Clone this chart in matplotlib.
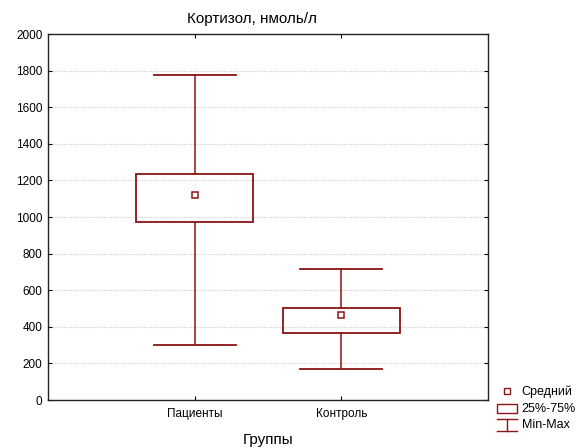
import matplotlib
matplotlib.use("Agg")
import matplotlib.pyplot as plt
from matplotlib.lines import Line2D
from matplotlib.patches import Rectangle
from matplotlib.legend_handler import HandlerBase

plt.rcParams['font.family'] = ['Liberation Sans', 'DejaVu Sans']

categories = ["Пациенты", "Контроль"]
means = [1120, 464]
q1 = [973, 368]
q3 = [1235, 504]
mins = [300, 168]
maxs = [1778, 714]
yticks = [0, 200, 400, 600, 800, 1000, 1200, 1400, 1600, 1800, 2000]

color = '#8b1414'

fig = plt.figure(figsize=(5.83, 4.48), dpi=100)
ax = fig.add_axes([48/583, 1-400/448, 440/583, 366/448])

pos = [1, 2]
bw = 0.8
cw = 0.56
for i, p in enumerate(pos):
    ax.add_patch(Rectangle((p - bw/2, q1[i]), bw, q3[i]-q1[i], fill=False,
                           edgecolor=color, lw=1.3, zorder=3))
    ax.plot([p, p], [q3[i], maxs[i]], color=color, lw=1.1, zorder=3)
    ax.plot([p, p], [mins[i], q1[i]], color=color, lw=1.1, zorder=3)
    ax.plot([p - cw/2, p + cw/2], [maxs[i], maxs[i]], color=color, lw=1.3, zorder=3)
    ax.plot([p - cw/2, p + cw/2], [mins[i], mins[i]], color=color, lw=1.3, zorder=3)
ax.plot(pos, means, linestyle='none', marker='s', markersize=5,
        markerfacecolor='white', markeredgecolor=color, markeredgewidth=1.1, zorder=4)

ax.set_xlim(0, 3)
ax.set_ylim(0, 2000)
ax.set_yticks(yticks)
ax.set_xticks(pos)
ax.set_xticklabels(categories, fontsize=8.5)
ax.tick_params(axis='y', labelsize=8.5)
ax.tick_params(direction='in', top=True, right=True, length=3, width=0.8, pad=4)
ax.tick_params(axis='x', pad=6)
ax.yaxis.grid(True, linestyle=(0, (1, 1)), color='#d0d0d0', lw=0.8)
ax.set_axisbelow(True)
for s in ax.spines.values():
    s.set_linewidth(1.0)
    s.set_color('#222222')

ax.set_title("Кортизол, нмоль/л", fontsize=11, pad=8, x=0.464)
ax.set_xlabel("Группы", fontsize=11, labelpad=9)


class BoxHandler(HandlerBase):
    def create_artists(self, legend, orig, xd, yd, w, h, fs, trans):
        r = Rectangle((xd, yd - h*0.15), w, h*1.05, fill=False, edgecolor=color, lw=1.0,
                      transform=trans)
        return [r]


class WhiskHandler(HandlerBase):
    def create_artists(self, legend, orig, xd, yd, w, h, fs, trans):
        top = yd + h*1.0
        bot = yd - h*0.35
        l1 = Line2D([xd, xd + w], [top, top], color=color, lw=1.0, transform=trans)
        l2 = Line2D([xd, xd + w], [bot, bot], color=color, lw=1.0, transform=trans)
        l3 = Line2D([xd + w/2, xd + w/2], [bot, top], color=color, lw=1.0, transform=trans)
        return [l1, l2, l3]


h_mean = Line2D([], [], linestyle='none', marker='s', markersize=5,
                markerfacecolor='white', markeredgecolor=color, markeredgewidth=1.0)
h_box = Rectangle((0, 0), 1, 1)
h_wh = Line2D([], [])
fig.legend([h_mean, h_box, h_wh], ["Средний", "25%-75%", "Min-Max"],
           handler_map={Rectangle: BoxHandler(), h_wh: WhiskHandler()},
           loc='upper left', bbox_to_anchor=(488/583, 1-377/448), frameon=False,
           fontsize=9, handlelength=1.65, handletextpad=0.35, labelspacing=0.35,
           borderpad=0.2)

fig.savefig("out.png", dpi=100)
